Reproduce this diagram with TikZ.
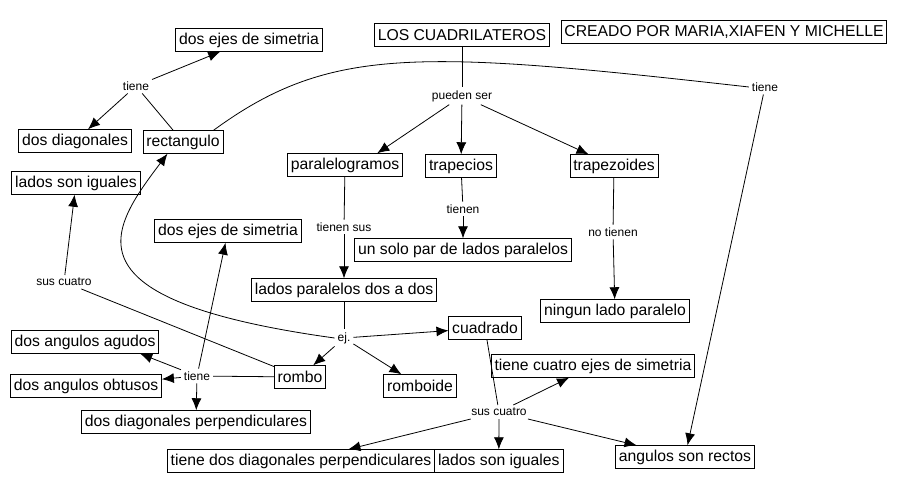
\documentclass[tikz,border=0pt]{standalone}
\usepackage{fontspec}
\setmainfont{Liberation Sans}
\usetikzlibrary{arrows.meta}
\usetikzlibrary{positioning}

\tikzset{
  concepto/.style={draw, font=\fontsize{11.8}{14}\selectfont, inner xsep=2.5pt, inner ysep=0pt, minimum height=17pt},
  enlace/.style={font=\fontsize{9}{11}\selectfont, inner sep=2pt},
  >={Latex[length=9pt,width=7.5pt]}
}

\begin{document}
\begin{tikzpicture}[x=0.75pt,y=-0.75pt,line width=0.6pt]
\useasboundingbox (0,0) rectangle (904,494);
% conceptos
\node[concepto] (los) at (462,35) {LOS CUADRILATEROS};
\node[concepto] (creado) at (724,32) {CREADO POR MARIA,XIAFEN Y MICHELLE};
\node[concepto] (ejesA) at (249,40) {dos ejes de simetria};
\node[concepto] (diagA) at (75,141) {dos diagonales};
\node[concepto] (rect) at (183,142) {rectangulo};
\node[concepto] (paral) at (345,165) {paralelogramos};
\node[concepto] (trapc) at (461,166) {trapecios};
\node[concepto] (trapz) at (614,166) {trapezoides};
\node[concepto] (igualA) at (76,183) {lados son iguales};
\node[concepto] (ejesB) at (228,231) {dos ejes de simetria};
\node[concepto] (unsolo) at (463,250) {un solo par de lados paralelos};
\node[concepto] (ladospar) at (344,290) {lados paralelos dos a dos};
\node[concepto] (ningun) at (615,311) {ningun lado paralelo};
\node[concepto] (cuad) at (485,328) {cuadrado};
\node[concepto] (agudos) at (85,342) {dos angulos agudos};
\node[concepto] (obtusos) at (86,386) {dos angulos obtusos};
\node[concepto] (rombo) at (300,377) {rombo};
\node[concepto] (romboide) at (420,386) {romboide};
\node[concepto] (cuatroejes) at (593,366) {tiene cuatro ejes de simetria};
\node[concepto] (diagB) at (196,422) {dos diagonales perpendiculares};
\node[concepto] (diagC) at (301,461) {tiene dos diagonales perpendiculares};
\node[concepto, right=-0.6pt of diagC] (igualB) {lados son iguales};
\node[concepto] (rectos) at (685,457) {angulos son rectos};
% palabras de enlace
\node[enlace] (tieneA) at (136,86) {tiene};
\node[enlace] (pueden) at (462,96) {pueden ser};
\node[enlace] (tieneR) at (765,87) {tiene};
\node[enlace] (tienensus) at (344,227) {tienen sus};
\node[enlace] (tienen) at (463,209) {tienen};
\node[enlace] (notienen) at (613,232) {no tienen};
\node[enlace] (suscA) at (64,282) {sus cuatro};
\node[enlace] (ej) at (344,338) {ej.};
\node[enlace] (tieneB) at (197,376) {tiene};
\node[enlace] (suscB) at (499,412) {sus cuatro};
% conexiones
\draw (los) -- (pueden);
\draw[->] (pueden) -- (paral.20);
\draw[->] (pueden) -- (trapc);
\draw[->] (pueden) -- (trapz);
\draw (rect) -- (tieneA);
\draw[->] (tieneA) -- (ejesA);
\draw[->] (tieneA) -- (diagA);
\draw (rect.21) .. controls (330,45) and (420,50) .. (tieneR.west);
\draw[->] (tieneR) -- (rectos);
\draw (paral) -- (tienensus);
\draw[->] (tienensus) -- (ladospar);
\draw (trapc) -- (tienen);
\draw[->] (tienen) -- (unsolo);
\draw (trapz) -- (notienen);
\draw[->] (notienen) -- (ningun);
\draw (ladospar) -- (ej);
\draw[->] (ej) -- (cuad);
\draw[->] (ej) -- (rombo);
\draw[->] (ej) -- (romboide);
\draw[->] (ej.west) .. controls (60,300) and (110,230) .. (rect.217);
\draw (rombo) -- (suscA);
\draw[->] (suscA) -- (igualA);
\draw (rombo) -- (tieneB);
\draw[->] (tieneB) -- (agudos.-12);
\draw[->] (tieneB) -- (obtusos);
\draw[->] (tieneB) -- (ejesB);
\draw[->] (tieneB) -- (diagB);
\draw (cuad) -- (suscB);
\draw[->] (suscB) -- (cuatroejes);
\draw[->] (suscB) -- (igualB);
\draw[->] (suscB) -- (rectos);
\draw[->] (suscB) -- (diagC);
\end{tikzpicture}
\end{document}
